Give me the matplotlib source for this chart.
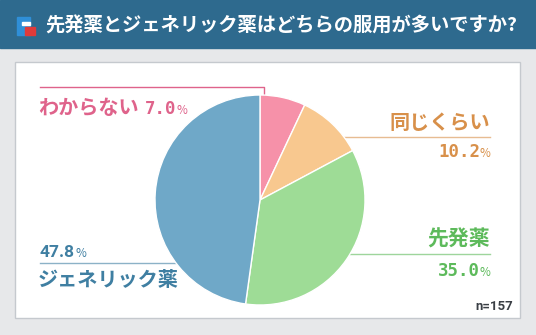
import matplotlib

matplotlib.use("Agg")
import matplotlib.pyplot as plt
from matplotlib.patches import Rectangle

plt.rcParams["font.family"] = ["Noto Sans CJK JP", "DejaVu Sans"]

TITLE = "先発薬とジェネリック薬はどちらの服用が多いですか?"
labels = ["わからない", "同じくらい", "先発薬", "ジェネリック薬"]
shares = [7.0, 10.2, 35.0, 47.8]
slice_colors = ["#f691a9", "#f8c88f", "#9edc96", "#6fa8c8"]
text_colors = ["#df638b", "#d8904a", "#5dba5b", "#3f7fa2"]
n_total = 157

W, H = 536, 335
fig = plt.figure(figsize=(W / 100, H / 100), dpi=100)

# background layer in pixel coordinates
bg = fig.add_axes([0, 0, 1, 1])
bg.set_xlim(0, W)
bg.set_ylim(H, 0)
bg.axis("off")
bg.add_patch(Rectangle((0, 0), W, H, color="#e7e8ea", zorder=0))
bg.add_patch(Rectangle((0, 0), W, 48, color="#2e6a8e", zorder=1))
bg.add_patch(Rectangle((15, 62), 505, 256, facecolor="white",
                       edgecolor="#c5c9ce", linewidth=1, zorder=1))

# logo
bg.add_patch(Rectangle((17, 17), 13, 18, color="#2f8fd8", zorder=2))
bg.add_patch(Rectangle((22, 22), 8, 3, color="white", zorder=3))
bg.add_patch(Rectangle((25, 27), 10, 8, color="#e03a3a", zorder=3))
bg.text(45, 26, TITLE, color="white", fontsize=13.9, fontweight="bold",
        va="center", ha="left", zorder=3)

# pie in its own axes
cx, cy, r = 260, 200, 105
pax = fig.add_axes([(cx - r) / W, (H - cy - r) / H, 2 * r / W, 2 * r / H])
pax.pie(shares, colors=slice_colors, startangle=90, counterclock=False,
        wedgeprops=dict(edgecolor="white", linewidth=1))
pax.set_xlim(-1, 1)
pax.set_ylim(-1, 1)
pax.set_aspect("auto")


def pct(x, y, value, color, ha="left", family="DejaVu Sans Mono"):
    num = bg.text(x, y, f"{value:.1f}", color=color, fontsize=12.5,
                  fontweight="bold", family=family, va="baseline", ha="left", zorder=3)
    fig.canvas.draw()
    w = num.get_window_extent().width
    if ha == "right":
        sign = bg.text(x, y, "%", color=color, fontsize=8.5,
                       va="baseline", ha="right", zorder=3)
        fig.canvas.draw()
        pw = sign.get_window_extent().width
        num.set_x(x - pw - w + 1)
    else:
        bg.text(x + w, y, "%", color=color, fontsize=8.5,
                va="baseline", ha="left", zorder=3)


lw = 1.0
# わからない
bg.plot([40, 264, 264], [87, 87, 95], color=text_colors[0], lw=lw, zorder=2)
bg.text(38, 107, labels[0], color=text_colors[0], fontsize=14.5,
        fontweight="bold", va="center", ha="left", zorder=3)
pct(145, 114, shares[0], text_colors[0])

# 同じくらい
bg.plot([344, 490], [137, 137], color=text_colors[1], lw=lw, alpha=0.6, zorder=2)
bg.text(490, 122, labels[1], color=text_colors[1], fontsize=14.5,
        fontweight="bold", va="center", ha="right", zorder=3)
pct(490, 157, shares[1], text_colors[1], ha="right")

# 先発薬
bg.plot([349, 490], [254, 254], color=text_colors[2], lw=lw, alpha=0.6, zorder=2)
bg.text(490, 239, labels[2], color=text_colors[2], fontsize=15,
        fontweight="bold", va="center", ha="right", zorder=3)
pct(490, 276, shares[2], text_colors[2], ha="right")

# ジェネリック薬
bg.plot([40, 176], [263, 263], color=text_colors[3], lw=lw, alpha=0.6, zorder=2)
pct(40, 257, shares[3], text_colors[3], family="Roboto")
bg.text(38, 280, labels[3], color=text_colors[3], fontsize=14.5,
        fontweight="bold", va="center", ha="left", zorder=3)

bg.text(513, 307, f"n={n_total}", color="#3a3f45", fontsize=9.5,
        fontweight="bold", family="Roboto", va="center", ha="right", zorder=3)

fig.savefig("out.png", dpi=100)
